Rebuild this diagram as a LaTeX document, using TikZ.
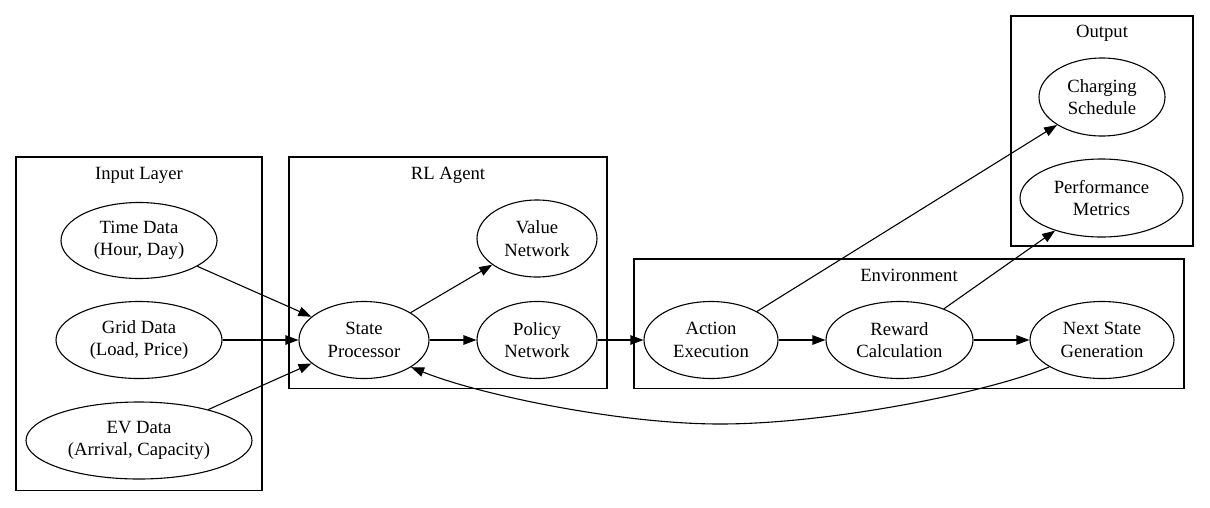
\documentclass[tikz,border=0pt]{standalone}
\usepackage{fontspec}
\setmainfont{Liberation Serif}
\usetikzlibrary{shapes.geometric,arrows.meta}
\begin{document}
\begin{tikzpicture}[x=1pt,y=-1pt,
  every node/.style={font=\fontsize{18.67}{22.4}\selectfont},
  nd/.style={draw, ellipse, line width=1.1pt, inner sep=0pt, align=center},
  box/.style={draw, line width=1.1pt},
  lbl/.style={inner sep=0pt},
  edge/.style={line width=1.1pt, -{Triangle[length=13pt,width=9.5pt]}}]
\useasboundingbox (0,0) rectangle (1210,507);
% clusters
\draw[box] (16,157) rectangle (262,490.5);
\node[lbl] (linput) at (139,175) {Input Layer};
\draw[box] (289,157) rectangle (607,388.5);
\node[lbl] (lagent) at (448,175) {RL Agent};
\draw[box] (634,259) rectangle (1184,388.5);
\node[lbl] (lenv) at (909,275) {Environment};
\draw[box] (1011,16) rectangle (1193,246);
\node[lbl] (lout) at (1102,33) {Output};
% nodes
\node[nd, minimum width=156pt, minimum height=76pt] (td) at (139,240.5) {Time Data\\(Hour, Day)};
\node[nd, minimum width=166pt, minimum height=77pt] (gd) at (139,340) {Grid Data\\(Load, Price)};
\node[nd, minimum width=226pt, minimum height=77pt] (ev) at (139,440.5) {EV Data\\(Arrival, Capacity)};
\node[nd, minimum width=130pt, minimum height=77pt] (sp) at (364,340) {State\\Processor};
\node[nd, minimum width=120pt, minimum height=77pt] (vn) at (537,238.5) {Value\\Network};
\node[nd, minimum width=120pt, minimum height=77pt] (pn) at (537,340) {Policy\\Network};
\node[nd, minimum width=134pt, minimum height=77pt] (ae) at (711,340) {Action\\Execution};
\node[nd, minimum width=147pt, minimum height=77pt] (rc) at (899.5,340) {Reward\\Calculation};
\node[nd, minimum width=144pt, minimum height=77pt] (ns) at (1102,340) {Next State\\Generation};
\node[nd, minimum width=126pt, minimum height=78pt] (cs) at (1102,97) {Charging\\Schedule};
\node[nd, minimum width=163pt, minimum height=78pt] (pm) at (1101.5,198) {Performance\\Metrics};
% edges
\draw[edge] (td) -- (sp);
\draw[edge] (gd) -- (sp);
\draw[edge] (ev) -- (sp);
\draw[edge] (sp) -- (vn);
\draw[edge] (sp) -- (pn);
\draw[edge] (pn) -- (ae);
\draw[edge] (ae) -- (rc);
\draw[edge] (rc) -- (ns);
\draw[edge] (ae) -- (cs);
\draw[edge] (rc) -- (pm);
\coordinate (low) at (720,424);
\draw[edge] (ns.207) .. controls (990,392) and (830,424) .. (low)
  .. controls (620,424) and (480,395) .. (sp.-30);
\end{tikzpicture}
\end{document}
